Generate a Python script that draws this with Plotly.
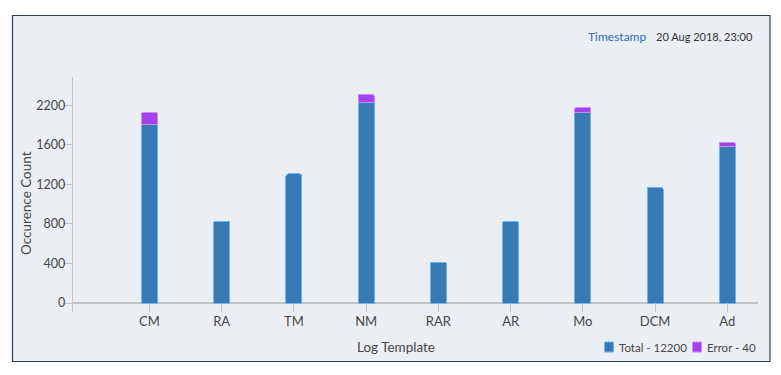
import plotly.graph_objects as go

# ---- data ----
categories = ["CM", "RA", "TM", "NM", "RAR", "AR", "Mo", "DCM", "Ad"]
total_values = [1809, 827, 1306, 2031, 412, 827, 1930, 1171, 1586]
error_values = [121, None, None, 81, None, None, 51, None, 40]
y_tick_vals = [0, 400, 800, 1200, 1600, 2000]
y_tick_text = ["0", "400", "800", "1200", "1600", "2200"]
legend_labels = ["Total - 12200", "Error - 40"]
timestamp_label = "Timestamp"
timestamp_value = "20 Aug 2018, 23:00"
x_title = "Log Template"
y_title = "Occurence Count"

BLUE = "#377ab4"
BLUE_EDGE = "#6db3ee"
PURPLE = "#a142ea"
PURPLE_EDGE = "#c98af5"
PANEL = "#ebeef2"
AXIS = "#c4c4c4"
TEXT = "#474747"
FONT = "Lato"

OFF = 8  # page body margin
W, H = 781 - 2 * OFF, 375 - 2 * OFF
PLOT_L, PLOT_R, PLOT_T, PLOT_B = 73 - OFF, 758 - OFF, 77 - OFF, 312 - OFF
L, R, T, B = PLOT_L, W - PLOT_R, PLOT_T, H - PLOT_B

fig = go.Figure()
fig.add_trace(go.Bar(
    x=categories, y=total_values, name=legend_labels[0],
    marker=dict(color=BLUE, line=dict(color=BLUE_EDGE, width=1), cornerradius=2),
    width=0.22, showlegend=False,
))
fig.add_trace(go.Bar(
    x=categories, y=error_values, name=legend_labels[1],
    marker=dict(color=PURPLE, line=dict(color=PURPLE_EDGE, width=1), cornerradius=2),
    width=0.22, showlegend=False,
))

pw = PLOT_R - PLOT_L
ph = PLOT_B - PLOT_T


def px_x(p):  # p given in screen pixels
    return (p - OFF - PLOT_L) / pw


def px_y(p):
    return (PLOT_B - (p - OFF)) / ph


shapes = [
    dict(type="rect", xref="paper", yref="paper",
         x0=px_x(12.5), x1=px_x(770), y0=px_y(361.5), y1=px_y(15.5),
         fillcolor=PANEL, line=dict(color="#2f404b", width=1.2), layer="below"),
]
annotations = [
    dict(text=timestamp_label, xref="paper", yref="paper", x=px_x(648), y=px_y(36),
         xanchor="right", yanchor="middle", showarrow=False,
         font=dict(family=FONT, size=12, color="#2f6db0")),
    dict(text=timestamp_value, xref="paper", yref="paper", x=px_x(755), y=px_y(36),
         xanchor="right", yanchor="middle", showarrow=False,
         font=dict(family=FONT, size=11, color="#333333")),
    dict(text=x_title, xref="paper", yref="paper", x=px_x(396), y=px_y(347),
         xanchor="center", yanchor="middle", showarrow=False,
         font=dict(family=FONT, size=13.5, color=TEXT)),
    dict(text=y_title, xref="paper", yref="paper", x=px_x(26), y=px_y(203),
         xanchor="center", yanchor="middle", showarrow=False, textangle=-90,
         font=dict(family=FONT, size=13.5, color=TEXT)),
]

# compact legend
legend_items = [(legend_labels[0], BLUE, BLUE_EDGE, 609), (legend_labels[1], PURPLE, PURPLE_EDGE, 697)]
for label, col, edge, cx in legend_items:
    shapes.append(dict(type="rect", xref="paper", yref="paper",
                       x0=px_x(cx - 4.5), x1=px_x(cx + 4.5), y0=px_y(352), y1=px_y(342),
                       fillcolor=col, line=dict(color=edge, width=1)))
    annotations.append(dict(text=label, xref="paper", yref="paper", x=px_x(cx + 8), y=px_y(347),
                            xanchor="left", yanchor="middle", showarrow=False,
                            font=dict(family=FONT, size=11.5, color=TEXT)))

fig.update_layout(
    width=W, height=H,
    margin=dict(l=L, r=R, t=T, b=B, pad=0),
    paper_bgcolor="white", plot_bgcolor="rgba(0,0,0,0)",
    barmode="stack",
    font=dict(family=FONT, size=12, color=TEXT),
    shapes=shapes, annotations=annotations,
    showlegend=False,
    xaxis=dict(type="category", range=[-1.058, 8.425], showgrid=False, showline=False,
               zeroline=False, ticks="inside", ticklen=9, tickcolor=AXIS, tickwidth=1.3,
               tickfont=dict(family=FONT, size=13, color=TEXT), fixedrange=True),
    yaxis=dict(range=[-91, 2287], tickvals=y_tick_vals, ticktext=y_tick_text,
               showgrid=False, showline=True, linecolor=AXIS, linewidth=1.3,
               zeroline=True, zerolinecolor=AXIS, zerolinewidth=1.6,
               ticks="outside", ticklen=9, tickcolor=AXIS, tickwidth=1.3,
               ticklabelstandoff=-5,
               tickfont=dict(family=FONT, size=12.5, color=TEXT), fixedrange=True),
)

fig.write_html("out.html")
